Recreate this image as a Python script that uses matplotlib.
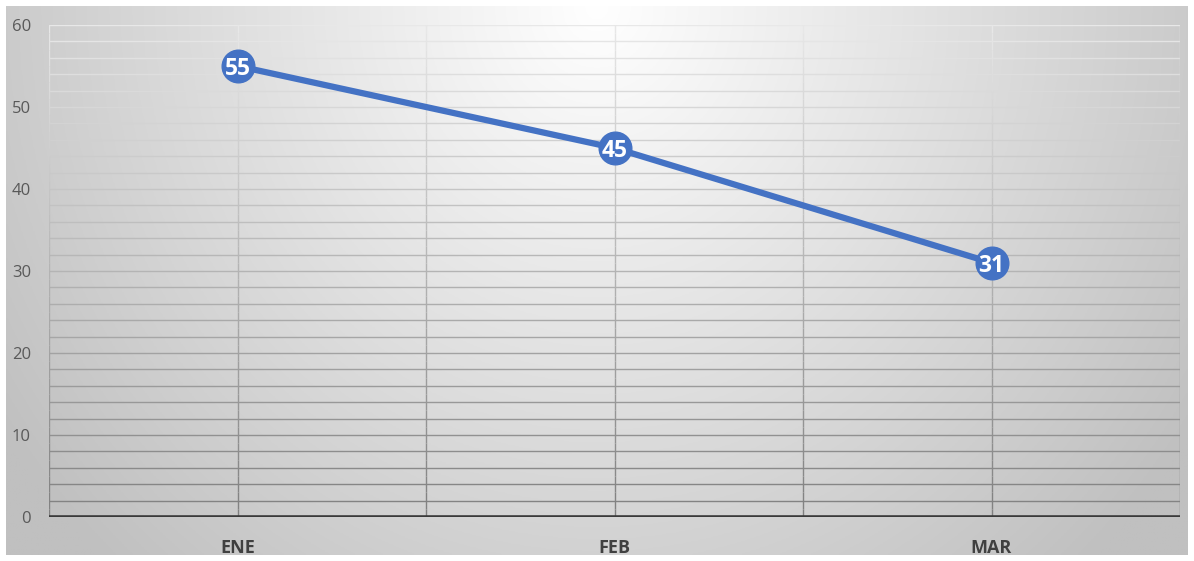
import numpy as np
import matplotlib
matplotlib.use("Agg")
import matplotlib.pyplot as plt
from matplotlib.collections import LineCollection

plt.rcParams['font.family'] = ['Open Sans', 'DejaVu Sans']

months = ['ENE', 'FEB', 'MAR']
values = [55, 45, 31]

W, H = 1194, 561
fig = plt.figure(figsize=(W / 100, H / 100), dpi=100)
fig.patch.set_facecolor('white')

# radial gray background (white at top centre)
bg = fig.add_axes([6 / W, 6 / H, 1182 / W, 549 / H])
nx, ny = 400, 200
xx, yy = np.meshgrid(np.linspace(-1, 1, nx), np.linspace(0, 1, ny))
d = np.sqrt(xx ** 2 + (yy / 1.15) ** 2)
g = 255 - 52 * np.clip(d, 0, 1.25)
g = np.clip(g, 192, 255) / 255.0
bg.imshow(np.dstack([g, g, g]), aspect='auto', extent=[0, 1, 1, 0])
bg.set_xlim(0, 1)
bg.set_ylim(1, 0)
bg.axis('off')

ax = fig.add_axes([49 / W, (H - 517) / H, (1180 - 49) / W, (517 - 25) / H])
ax.patch.set_alpha(0)
ax.set_xlim(0, 3)
ax.set_ylim(0, 60)


def grid_col(y):
    f = 1 - y / 60.0
    v = (232 - 105 * f) / 255.0
    return (v, v, v)


# horizontal grid every 2
for y in np.arange(2, 61, 2):
    ax.axhline(y, color=grid_col(y), lw=1, zorder=1)

# vertical grid with fading colour
segs, cols = [], []
for x in [0, 0.5, 1, 1.5, 2, 2.5, 3]:
    ys = np.linspace(0, 60, 61)
    for a, b in zip(ys[:-1], ys[1:]):
        segs.append([(x, a), (x, b)])
        cols.append(grid_col((a + b) / 2))
ax.add_collection(LineCollection(segs, colors=cols, linewidths=1, zorder=1))

ax.axhline(0, color='#3a3a3a', lw=2.6, zorder=2)

xpos = np.arange(len(months)) + 0.5
ax.plot(xpos, values, color='#4472C4', lw=4.5, marker='o', markersize=23.5,
        markerfacecolor='#4472C4', markeredgecolor='#4472C4', zorder=3,
        solid_capstyle='round')
for x, v in zip(xpos, values):
    ax.text(x, v, str(v), color='white', fontsize=16.5, fontweight='bold',
            ha='center', va='center_baseline', zorder=4)

for s in ax.spines.values():
    s.set_visible(False)
ax.set_yticks(np.arange(0, 61, 10))
ax.set_xticks(xpos)
ax.set_xticklabels(months, fontweight='bold', fontsize=13, color='#404040')
ax.tick_params(axis='y', length=0, pad=13, labelsize=12, labelcolor='#595959')
ax.tick_params(axis='x', length=0, pad=16)

fig.savefig('out.png', dpi=100)
